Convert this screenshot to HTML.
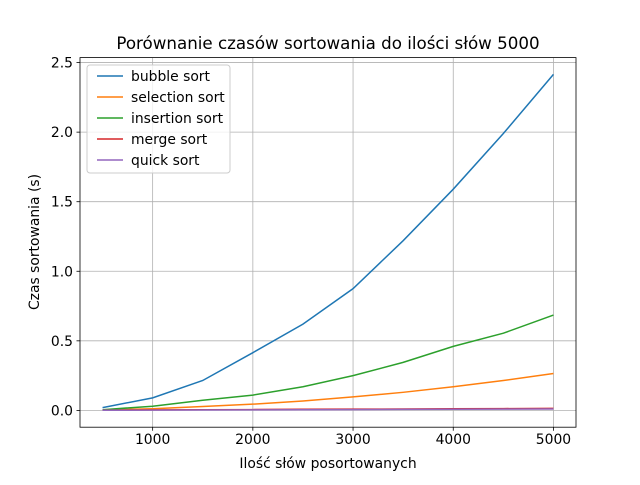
<!DOCTYPE html>
<html><head><meta charset="utf-8"><style>
body{margin:0;background:#fff}
svg{font-family:"DejaVu Sans","Liberation Sans",sans-serif}
</style></head><body>
<svg id="chart" width="640" height="480" xmlns="http://www.w3.org/2000/svg">
<rect width="640" height="480" fill="#fff"/>
<text x="328" y="49" font-size="16.7" text-anchor="middle">Porównanie czasów sortowania do ilości słów 5000</text>
<g id="grid"></g>
<g id="series"></g>
<rect x="80" y="57.6" width="496" height="369.6" fill="none" stroke="#000" stroke-width="0.8"/>
<g id="ticks"></g>
<text x="328" y="468" font-size="13.9" text-anchor="middle">Ilość słów posortowanych</text>
<text transform="translate(39,242) rotate(-90)" font-size="13.9" text-anchor="middle">Czas sortowania (s)</text>
<g id="legend"></g>
</svg>
<script>
const xs=[500,1000,1500,2000,2500,3000,3500,4000,4500,5000];
const bubble=[0.02,0.09,0.215,0.415,0.62,0.875,1.22,1.59,1.99,2.415];
const selection=[0.003,0.012,0.028,0.045,0.068,0.097,0.13,0.17,0.215,0.265];
const insertion=[0.005,0.03,0.073,0.11,0.17,0.25,0.345,0.46,0.555,0.685];
const merge=[0.002,0.004,0.005,0.006,0.008,0.009,0.01,0.012,0.013,0.015];
const quick=[0.001,0.002,0.003,0.004,0.005,0.006,0.007,0.008,0.009,0.01];
const xTicks=[1000,2000,3000,4000,5000];
const yTicks=[0,0.5,1.0,1.5,2.0,2.5];
const yTickLabels=["0.0","0.5","1.0","1.5","2.0","2.5"];
const names=["bubble sort","selection sort","insertion sort","merge sort","quick sort"];
const colors=["#1f77b4","#ff7f0e","#2ca02c","#d62728","#9467bd"];
const data=[bubble,selection,insertion,merge,quick];
const NS="http://www.w3.org/2000/svg";
const L=80,R=576,T=57.6,B=427.2;
const xmin=Math.min(...xs),xmax=Math.max(...xs);
const all=[].concat(...data);const ymn=Math.min(0,...all),ymx=Math.max(...all);
const xa=xmin-(xmax-xmin)*0.05,xb=xmax+(xmax-xmin)*0.05;
const ya=ymn-(ymx-ymn)*0.05,yb=ymx+(ymx-ymn)*0.05;
const X=v=>L+(v-xa)/(xb-xa)*(R-L);
const Y=v=>B-(v-ya)/(yb-ya)*(B-T);
function mk(tag,attrs,parent){const e=document.createElementNS(NS,tag);for(const k in attrs)e.setAttribute(k,attrs[k]);parent.appendChild(e);return e;}
const grid=document.getElementById('grid'),ticks=document.getElementById('ticks'),ser=document.getElementById('series'),leg=document.getElementById('legend');
xTicks.forEach(t=>{
 const g=mk('line',{x1:X(t),x2:X(t),y1:T,y2:B,stroke:'#b0b0b0','stroke-width':0.8},grid);
 
 
 mk('line',{x1:X(t),x2:X(t),y1:B,y2:B+3.5,stroke:'#000','stroke-width':0.8},ticks);
 const tx=mk('text',{x:X(t),y:B+17,'font-size':13.9,'text-anchor':'middle'},ticks);tx.textContent=t;
 
 
});
yTicks.forEach((t,i)=>{
 const g=mk('line',{x1:L,x2:R,y1:Y(t),y2:Y(t),stroke:'#b0b0b0','stroke-width':0.8},grid);
 
 
 mk('line',{x1:L-3.5,x2:L,y1:Y(t),y2:Y(t),stroke:'#000','stroke-width':0.8},ticks);
 const tx=mk('text',{x:L-7,y:Y(t)+5,'font-size':13.9,'text-anchor':'end'},ticks);tx.textContent=yTickLabels[i];
 
 
});
data.forEach((d,i)=>{
 const p=mk('polyline',{points:d.map((v,j)=>X(xs[j])+','+Y(v)).join(' '),fill:'none',stroke:colors[i],'stroke-width':1.5},ser);
 
 
});
mk('rect',{x:87,y:65,width:143,height:108,rx:3,fill:'#fff','fill-opacity':0.8,stroke:'#ccc'},leg);
names.forEach((n,i)=>{
 const y=76+i*21;
 const l=mk('line',{x1:97,x2:123,y1:y,y2:y,stroke:colors[i],'stroke-width':1.5},leg);
 
 
 const t=mk('text',{x:131,y:y+5,'font-size':13.9},leg);t.textContent=n;
 
 
});
</script>
</body></html>
